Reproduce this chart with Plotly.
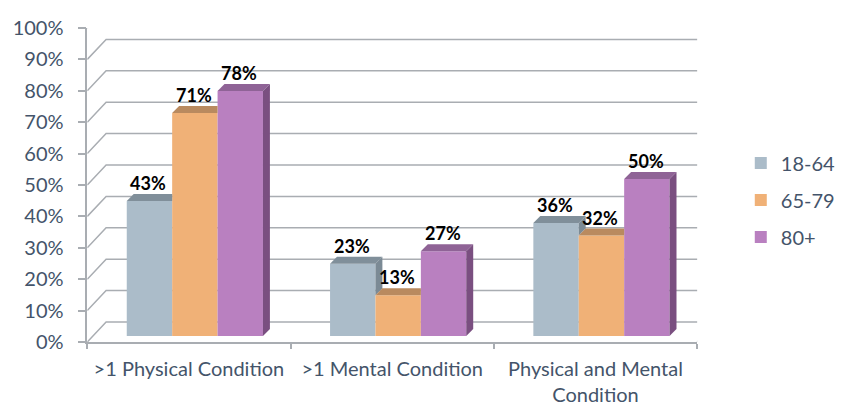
import plotly.graph_objects as go

# ---- data ----
categories = [">1 Physical Condition", ">1 Mental Condition", "Physical and Mental<br>Condition"]
age_groups = ["18-64", "65-79", "80+"]
share_18_64 = [43, 23, 36]
share_65_79 = [71, 13, 32]
share_80_plus = [78, 27, 50]
y_ticks = [0, 10, 20, 30, 40, 50, 60, 70, 80, 90, 100]
y_tick_labels = [f"{t}%" for t in y_ticks]

series = [share_18_64, share_65_79, share_80_plus]

# ---- styling ----
W, H = 841, 408
TEXT = "#44546A"
GRID = "#A9ADB2"
front_col = ["#ABBCC9", "#F0B177", "#B980C0"]
top_col = ["#808F9A", "#B98A5F", "#8F6396"]
side_col = ["#7B8A95", "#AE7F52", "#7A4F80"]

# front (axis) plane, in pixels
FX0, FX1 = 88, 703
FY0, FY1 = 342, 28
# bars sit a little behind the front plane, the wall further back
BAR_SHIFT = 6
WALL_DX, WALL_DY = 19, 20
DEPTH = 7
BARGAP = 0.33

px_x = (FX1 - FX0) / 3.0
px_y = (FY0 - FY1) / 100.0

fig = go.Figure()

# back wall gridlines, side-wall diagonals and floor edge (front-plane axes)
bx, by = WALL_DX / px_x, WALL_DY / px_y
gx, gy = [], []
for t in y_ticks:
    gx += [-0.5, -0.5 + bx, 2.5 + bx, None]
    gy += [t, t + by, t + by, None]
gx += [2.5, 2.5 + bx, None]
gy += [0, by, None]
fig.add_trace(go.Scatter(x=gx, y=gy, mode="lines", line=dict(color=GRID, width=1.5),
                         cliponaxis=False, hoverinfo="skip", showlegend=False,
                         xaxis="x", yaxis="y"))

# front faces of the columns
for j, (name, vals) in enumerate(zip(age_groups, series)):
    fig.add_trace(go.Bar(x=[0, 1, 2], y=vals, name=name, xaxis="x2", yaxis="y2",
                         marker=dict(color=front_col[j], line=dict(width=0)),
                         legendgroup=name, hoverinfo="skip"))

# top and side faces for the 3-D look
dx, dy = DEPTH / px_x, DEPTH / px_y
w = (1 - BARGAP) / 3
annotations = []
for i in range(3):
    for j in range(3):
        v = series[j][i]
        xl = i - (1 - BARGAP) / 2 + j * w
        xr = xl + w
        nxt = series[j + 1][i] if j < 2 else None
        # top face
        if nxt is None or nxt <= v:
            tx = [xl, xl + dx, xr + dx, xr, xl]
            ty = [v, v + dy, v + dy, v, v]
        elif nxt >= v + dy:
            tx = [xl, xl + dx, xr, xr, xl]
            ty = [v, v + dy, v + dy, v, v]
        else:
            cut = xr + (nxt - v) / dy * dx
            tx = [xl, xl + dx, xr + dx, cut, xr, xr, xl]
            ty = [v, v + dy, v + dy, nxt, nxt, v, v]
        fig.add_trace(go.Scatter(x=tx, y=ty, fill="toself", fillcolor=top_col[j], mode="lines",
                                 line=dict(width=0, color=top_col[j]), hoverinfo="skip",
                                 showlegend=False, xaxis="x2", yaxis="y2", cliponaxis=False))
        # side face (only the part not hidden by the neighbouring column)
        base = 0 if nxt is None else nxt
        if nxt is None or nxt < v:
            sx = [xr, xr + dx, xr + dx, xr, xr]
            sy = [base, base + dy, v + dy, v, base]
            fig.add_trace(go.Scatter(x=sx, y=sy, fill="toself", fillcolor=side_col[j], mode="lines",
                                     line=dict(width=0, color=side_col[j]), hoverinfo="skip",
                                     showlegend=False, xaxis="x2", yaxis="y2", cliponaxis=False))
        annotations.append(dict(x=(xl + xr) / 2, y=v, xref="x2", yref="y2",
                                text=f"<b>{v}%</b>", showarrow=False, yanchor="middle",
                                yshift=18, xshift=-1,
                                font=dict(family="Lato", size=18, color="#000000")))

fig.update_layout(
    width=W, height=H, autosize=False,
    margin=dict(l=0, r=0, t=0, b=0),
    paper_bgcolor="white", plot_bgcolor="rgba(0,0,0,0)",
    font=dict(family="Lato", size=20, color=TEXT),
    barmode="group", bargap=BARGAP, bargroupgap=0,
    showlegend=True,
    legend=dict(x=747 / W, xanchor="left", y=1 - 200 / H, yanchor="middle",
                font=dict(size=20, color=TEXT), tracegroupgap=8,
                bgcolor="rgba(0,0,0,0)"),
    annotations=annotations,
    xaxis=dict(domain=[FX0 / W, FX1 / W], range=[-0.5, 2.5], anchor="y", automargin=False,
               tickmode="array", tickvals=[0, 1, 2], ticktext=categories, ticks="",
               showline=True, linecolor=GRID, linewidth=1.5, showgrid=False, zeroline=False,
               ticklabelstandoff=8,
               minor=dict(tickmode="array", tickvals=[-0.5, 0.5, 1.5, 2.5], ticks="outside",
                          ticklen=5, tickcolor=GRID, tickwidth=1.5, showgrid=False)),
    yaxis=dict(domain=[1 - FY0 / H, 1 - FY1 / H], range=[0, 100], anchor="x", automargin=False,
               tickmode="array", tickvals=y_ticks, ticktext=y_tick_labels,
               ticks="outside", ticklen=8, tickcolor=GRID, tickwidth=1.5,
               showline=True, linecolor=GRID, linewidth=1.5, showgrid=False, zeroline=False,
               ticklabelstandoff=10),
    xaxis2=dict(domain=[(FX0 + BAR_SHIFT) / W, (FX1 + BAR_SHIFT) / W], range=[-0.5, 2.5],
                anchor="y2", visible=False, automargin=False),
    yaxis2=dict(domain=[1 - (FY0 - BAR_SHIFT) / H, 1 - (FY1 - BAR_SHIFT) / H], range=[0, 100],
                anchor="x2", visible=False, automargin=False),
)

fig.write_html("out.html")
